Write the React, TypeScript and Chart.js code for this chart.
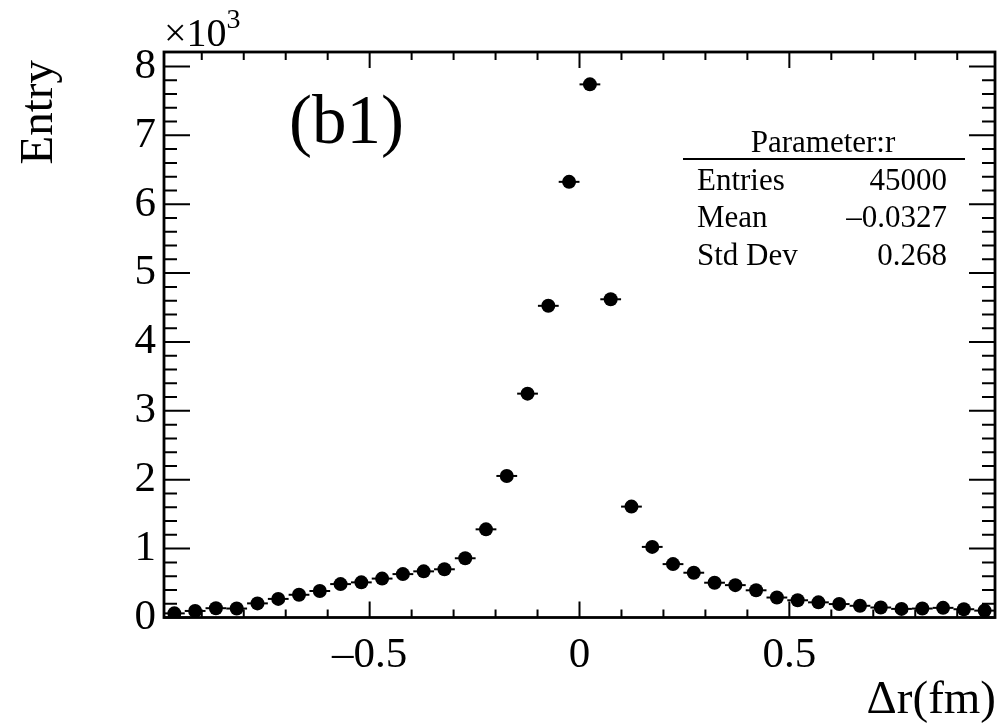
import React, { useEffect, useRef } from 'react';
import { Chart, registerables } from 'chart.js';

Chart.register(...registerables);

// Histogram bin centres (40 bins on -0.99..0.99)
const binCenters = [
  -0.9653, -0.9158, -0.8663, -0.8168, -0.7673, -0.7178, -0.6683, -0.6188, -0.5693, -0.5198,
  -0.4703, -0.4208, -0.3713, -0.3218, -0.2723, -0.2228, -0.1733, -0.1238, -0.0743, -0.0248,
  0.0248, 0.0743, 0.1238, 0.1733, 0.2228, 0.2723, 0.3218, 0.3713, 0.4208, 0.4703,
  0.5198, 0.5693, 0.6188, 0.6683, 0.7178, 0.7673, 0.8168, 0.8663, 0.9158, 0.9653,
];
const entries = [
  60, 95, 135, 130, 205, 270, 330, 385, 485, 510,
  565, 630, 670, 700, 860, 1280, 2055, 3250, 4525, 6325,
  7740, 4620, 1610, 1025, 775, 650, 505, 470, 395, 290,
  250, 220, 195, 170, 145, 125, 130, 140, 120, 100,
];
const binHalfWidth = 0.02475;

const xMajorTicks = [-0.5, 0, 0.5];
const xMinorTicks = [-0.9, -0.8, -0.7, -0.6, -0.4, -0.3, -0.2, -0.1, 0.1, 0.2, 0.3, 0.4, 0.6, 0.7, 0.8, 0.9];
const yMajorTicks = [0, 1000, 2000, 3000, 4000, 5000, 6000, 7000, 8000];
const yMinorTicks = [
  200, 400, 600, 800, 1200, 1400, 1600, 1800, 2200, 2400, 2600, 2800,
  3200, 3400, 3600, 3800, 4200, 4400, 4600, 4800, 5200, 5400, 5600, 5800,
  6200, 6400, 6600, 6800, 7200, 7400, 7600, 7800,
];

const statsTitle = 'Parameter:r';
const statsLabels = ['Entries', 'Mean', 'Std Dev'];
const statsValues = ['45000', '\u20130.0327', '0.268'];

const SERIF = "'Liberation Serif', 'DejaVu Serif', serif";

const rootStyle = {
  id: 'rootStyle',
  beforeDatasetsDraw(chart: any) {
    const { ctx, scales } = chart;
    const x = scales.x, y = scales.y;
    ctx.save();
    ctx.strokeStyle = '#000';
    ctx.lineWidth = 2;
    binCenters.forEach((c, i) => {
      const py = y.getPixelForValue(entries[i]);
      ctx.beginPath();
      ctx.moveTo(x.getPixelForValue(c - binHalfWidth), py);
      ctx.lineTo(x.getPixelForValue(c + binHalfWidth), py);
      ctx.stroke();
      const e = Math.sqrt(entries[i]);
      const px = x.getPixelForValue(c);
      ctx.beginPath();
      ctx.moveTo(px, y.getPixelForValue(entries[i] - e));
      ctx.lineTo(px, y.getPixelForValue(entries[i] + e));
      ctx.stroke();
    });
    ctx.restore();
  },
  afterDraw(chart: any) {
    const { ctx, chartArea: a, scales } = chart;
    const x = scales.x, y = scales.y;
    ctx.save();
    ctx.strokeStyle = '#000';
    ctx.fillStyle = '#000';
    ctx.lineWidth = 2;
    const xt = (vals: number[], len: number) => {
      vals.forEach((v) => {
        const px = x.getPixelForValue(v);
        ctx.beginPath();
        ctx.moveTo(px, a.bottom);
        ctx.lineTo(px, a.bottom - len);
        ctx.moveTo(px, a.top);
        ctx.lineTo(px, a.top + len);
        ctx.stroke();
      });
    };
    const yt = (vals: number[], len: number) => {
      vals.forEach((v) => {
        const py = y.getPixelForValue(v);
        ctx.beginPath();
        ctx.moveTo(a.left, py);
        ctx.lineTo(a.left + len, py);
        ctx.moveTo(a.right, py);
        ctx.lineTo(a.right - len, py);
        ctx.stroke();
      });
    };
    xt(xMajorTicks, 16);
    xt(xMinorTicks, 8);
    yt(yMajorTicks, 26);
    yt(yMinorTicks, 13);
    ctx.lineWidth = 2.8;
    ctx.strokeRect(a.left, a.top, a.right - a.left, a.bottom - a.top);

    // axis titles
    ctx.font = `47px ${SERIF}`;
    ctx.textAlign = 'right';
    ctx.textBaseline = 'alphabetic';
    ctx.fillText('\u0394r(fm)', 996, 713);
    ctx.save();
    ctx.translate(52, 60);
    ctx.rotate(-Math.PI / 2);
    ctx.textAlign = 'right';
    ctx.fillText('Entry', 0, 0);
    ctx.restore();

    // exponent
    ctx.textAlign = 'left';
    ctx.font = `40px ${SERIF}`;
    ctx.fillText('\u00d710', 164, 46);
    const w = ctx.measureText('\u00d710').width;
    ctx.font = `28px ${SERIF}`;
    ctx.fillText('3', 164 + w, 28);

    // panel label
    ctx.font = `69px ${SERIF}`;
    ctx.fillText('(b1)', 289, 143);

    // stats box
    ctx.font = `31px ${SERIF}`;
    ctx.textAlign = 'center';
    ctx.fillText(statsTitle, 823, 152);
    ctx.lineWidth = 2;
    ctx.beginPath();
    ctx.moveTo(683, 159);
    ctx.lineTo(965, 159);
    ctx.stroke();
    const rows = [190, 227, 265];
    statsLabels.forEach((l, i) => {
      ctx.textAlign = 'left';
      ctx.fillText(l, 697, rows[i]);
      ctx.textAlign = 'right';
      ctx.fillText(statsValues[i], 947, rows[i]);
    });
    ctx.restore();
  },
};

export default function App() {
  const ref = useRef<HTMLCanvasElement>(null);
  useEffect(() => {
    if (!ref.current) return;
    const chart = new Chart(ref.current, {
      type: 'scatter',
      data: {
        datasets: [
          {
            data: binCenters.map((c, i) => ({ x: c, y: entries[i] })),
            pointRadius: 7,
            pointHoverRadius: 7,
            backgroundColor: '#000',
            borderColor: '#000',
            borderWidth: 0,
          },
        ],
      },
      options: {
        animation: false,
        responsive: true,
        maintainAspectRatio: false,
        events: [],
        layout: { padding: { top: 52, right: 5, left: 0, bottom: 0 } },
        plugins: { legend: { display: false }, tooltip: { enabled: false }, title: { display: false } },
        scales: {
          x: {
            type: 'linear',
            min: -0.99,
            max: 0.99,
            grid: { display: false, drawTicks: false },
            border: { display: false },
            afterBuildTicks: (s: any) => {
              s.ticks = xMajorTicks.map((v) => ({ value: v }));
            },
            afterFit: (s: any) => {
              s.height = 109.5;
            },
            ticks: {
              padding: 12,
              color: '#000',
              font: { family: SERIF, size: 43 },
              maxRotation: 0,
              callback: (v: any) => (v < 0 ? '\u2013' + String(-v) : String(v)),
            },
          },
          y: {
            type: 'linear',
            min: 0,
            max: 8210,
            grid: { display: false, drawTicks: false },
            border: { display: false },
            afterBuildTicks: (s: any) => {
              s.ticks = yMajorTicks.map((v) => ({ value: v }));
            },
            afterFit: (s: any) => {
              s.width = 164;
            },
            ticks: {
              padding: 8,
              color: '#000',
              font: { family: SERIF, size: 43 },
              callback: (v: any) => String(Number(v) / 1000),
            },
          },
        },
      },
      plugins: [rootStyle],
    });
    return () => chart.destroy();
  }, []);
  return (
    <div style={{ position: 'absolute', left: 0, top: 0, width: 1002, height: 727, background: '#fff' }}>
      <canvas ref={ref} />
    </div>
  );
}
